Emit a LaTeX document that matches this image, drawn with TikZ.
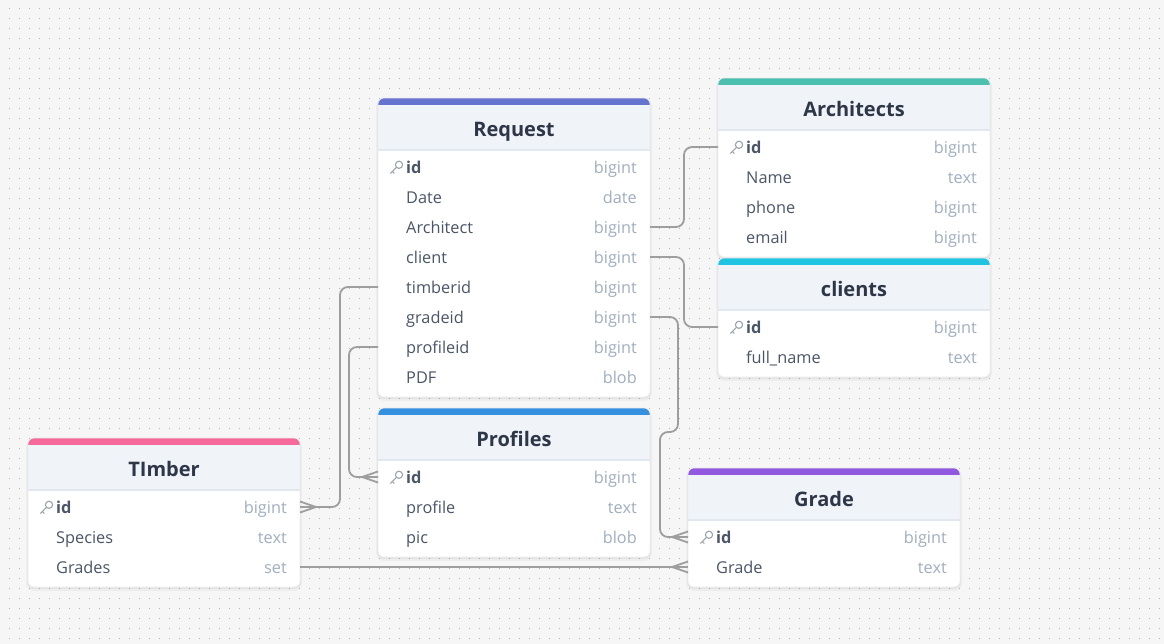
\documentclass[tikz,border=0pt]{standalone}
\usepackage{fontspec}
\setmainfont{Open Sans}
\usetikzlibrary{calc}
\definecolor{bgcol}{HTML}{F6F6F6}
\definecolor{dotcol}{HTML}{B4B4B4}
\definecolor{headfill}{HTML}{F0F3F8}
\definecolor{sepcol}{HTML}{E2E8F0}
\definecolor{titlecol}{HTML}{2D3748}
\definecolor{fieldcol}{HTML}{4A5568}
\definecolor{typecol}{HTML}{A0AEC0}
\definecolor{conncol}{HTML}{9E9E9E}
\definecolor{keycol}{HTML}{9AA3AE}
\definecolor{reqcol}{HTML}{6673CF}
\definecolor{archcol}{HTML}{4BBFB0}
\definecolor{clicol}{HTML}{1FC5E0}
\definecolor{profcol}{HTML}{3590E0}
\definecolor{timcol}{HTML}{F5699A}
\definecolor{gradecol}{HTML}{9159E0}
\tikzset{
  cardbody/.style={rectangle, draw=none, minimum width=272pt, outer sep=0pt, inner sep=0pt},
  rowbox/.style={rectangle, minimum width=272pt, minimum height=30pt, inner sep=0pt, outer sep=0pt},
  titletext/.style={font=\fontsize{20}{23}\selectfont\bfseries, text=titlecol, inner sep=0pt, text height=14.3pt, text depth=0pt},
  fieldtext/.style={font=\fontsize{16.3}{19}\selectfont, text=fieldcol, inner sep=0pt, text height=12.4pt, text depth=0pt},
  typetext/.style={fieldtext, text=typecol},
  conn/.style={draw=conncol, line width=1.8pt, rounded corners=8pt},
  crow/.style={draw=conncol, line width=1.8pt},
  keyicon/.style={draw=keycol, line width=1.1pt},
  dotline/.style={draw=dotcol, line width=1.3pt, dash pattern=on 1.3pt off 8.7pt}
}
\newcommand\erdtable[7]{%
  \pgfmathsetmacro\tbot{#3+69+30*(#6-1)+20}%
  \pgfmathsetmacro\thgt{\tbot-#3}%
  \fill[black,opacity=0.03,rounded corners=8pt] (#2-2,#3+1) rectangle (#2+274,\tbot+4);
  \fill[black,opacity=0.04,rounded corners=7pt] (#2-1,#3+1) rectangle (#2+273,\tbot+2);
  \fill[white,rounded corners=6pt] (#2,#3) rectangle (#2+272,\tbot);
  \node[cardbody, anchor=north west, minimum height=\thgt pt] (#1) at (#2,#3) {};
  \begin{scope}
    \clip[rounded corners=6pt] (#2,#3) rectangle (#2+272,\tbot);
    \fill[#5] (#2,#3) rectangle (#2+272,#3+7);
    \fill[headfill] (#2,#3+7) rectangle (#2+272,#3+52);
    \draw[sepcol, line width=1.2pt] (#2,#3+52) -- (#2+272,#3+52);
  \end{scope}
  \draw[black!7, line width=.6pt, rounded corners=6pt] (#2,#3) rectangle (#2+272,\tbot);
  \node[titletext] (#1-title) at (#2+136,#3+31) {#4};
  \foreach \k/\f/\t/\n [count=\i from 0] in {#7} {
    \node[rowbox] (#1-\n) at (#2+136,#3+69+30*\i) {};
    \node[fieldtext, anchor=west] (#1-\n-f) at ([xshift=28pt]#1-\n.west) {\ifnum\k=1 \bfseries\fi\f};
    \node[typetext, anchor=east] (#1-\n-t) at ([xshift=-13pt]#1-\n.east) {\t};
    \ifnum\k=1\relax
      \draw[keyicon] ($(#1-\n.west)+(21,-2.2)$) circle (3.6pt);
      \draw[keyicon] ($(#1-\n.west)+(18.4,0.4)$) -- ($(#1-\n.west)+(12.3,6.5)$);
      \draw[keyicon] ($(#1-\n.west)+(14.3,4.5)$) -- ($(#1-\n.west)+(16.3,6.5)$);
    \fi
  }
}
\begin{document}
\begin{tikzpicture}[x=1pt,y=-1pt]
\useasboundingbox (0,0) rectangle (1164,644);
\fill[bgcol] (0,0) rectangle (1164,644);
\foreach \j in {0,...,63} {
  \draw[dotline] (8.85,10*\j+8.5) -- (1164,10*\j+8.5);
}
\erdtable{req}{378}{98}{Request}{reqcol}{8}{1/id/bigint/id, 0/Date/date/date, 0/Architect/bigint/architect, 0/client/bigint/client, 0/timberid/bigint/timberid, 0/gradeid/bigint/gradeid, 0/profileid/bigint/profileid, 0/PDF/blob/pdf}
\erdtable{arch}{718}{78}{Architects}{archcol}{4}{1/id/bigint/id, 0/Name/text/name, 0/phone/bigint/phone, 0/email/bigint/email}
\erdtable{cli}{718}{258}{clients}{clicol}{2}{1/id/bigint/id, 0/full\_name/text/fullname}
\erdtable{prof}{378}{408}{Profiles}{profcol}{3}{1/id/bigint/id, 0/profile/text/profile, 0/pic/blob/pic}
\erdtable{tim}{28}{438}{TImber}{timcol}{3}{1/id/bigint/id, 0/Species/text/species, 0/Grades/set/grades}
\erdtable{grade}{688}{468}{Grade}{gradecol}{2}{1/id/bigint/id, 0/Grade/text/grade}
% connectors
\draw[conn] (req-architect.east) -- ++(34,0) |- (arch-id.west);
\draw[conn] (req-client.east) -- ++(34,0) |- (cli-id.west);
\draw[conn] (req-gradeid.east) -- ++(28,0) -- ++(0,115) -- ++(-18,0) |- (grade-id.west);
\draw[conn] (req-timberid.west) -- ++(-38,0) |- (tim-id.east);
\draw[conn] (req-profileid.west) -- ++(-29,0) |- (prof-id.west);
\draw[conn] (tim-grades.east) -- (grade-grade.west);
% crow's feet
\draw[crow] ([xshift=-16pt]grade-id.west) -- ([yshift=5.5pt]grade-id.west);
\draw[crow] ([xshift=-16pt]grade-id.west) -- ([yshift=-5.5pt]grade-id.west);
\draw[crow] ([xshift=-16pt]grade-grade.west) -- ([yshift=5.5pt]grade-grade.west);
\draw[crow] ([xshift=-16pt]grade-grade.west) -- ([yshift=-5.5pt]grade-grade.west);
\draw[crow] ([xshift=-16pt]prof-id.west) -- ([yshift=5.5pt]prof-id.west);
\draw[crow] ([xshift=-16pt]prof-id.west) -- ([yshift=-5.5pt]prof-id.west);
\draw[crow] ([xshift=16pt]tim-id.east) -- ([yshift=5.5pt]tim-id.east);
\draw[crow] ([xshift=16pt]tim-id.east) -- ([yshift=-5.5pt]tim-id.east);
\end{tikzpicture}
\end{document}
